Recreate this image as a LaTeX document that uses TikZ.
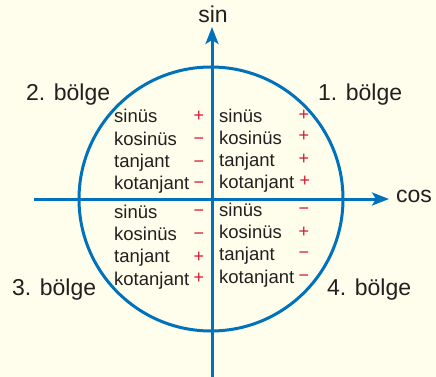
\documentclass[tikz,border=0pt]{standalone}
\usepackage{fontspec}
\setmainfont{Liberation Sans}
\usetikzlibrary{arrows.meta}
\definecolor{bg}{RGB}{255,253,235}
\definecolor{axisblue}{RGB}{0,114,188}
\definecolor{txt}{RGB}{35,31,32}
\definecolor{sgn}{RGB}{215,25,50}
\begin{document}
\begin{tikzpicture}[x=1pt,y=-1pt,
  lbl/.style={font=\fontsize{18.5}{20}\selectfont, text=txt, anchor=base west, inner sep=0pt},
  big/.style={font=\fontsize{23}{25}\selectfont, text=txt, anchor=base west, inner sep=0pt},
  sg/.style={font=\fontsize{18}{20}\selectfont, text=sgn, anchor=base, inner sep=0pt},
  ax/.style={draw=axisblue, line width=3pt},
  tip/.style={-{Stealth[length=17pt,width=13pt,inset=4pt]}}]
\fill[bg] (0,0) rectangle (436,377);
\useasboundingbox (0,0) rectangle (436,377);
\coordinate (O) at (211,199);
\draw[ax] (O) circle[radius=132];
\coordinate (xl) at (34,199);
\coordinate (xr) at (389,199);
\coordinate (yb) at (212,378);
\coordinate (yt) at (212,27);
\draw[ax, tip] (xl) -- (xr);
\draw[ax, tip] (yb) -- (yt);
\node[big, anchor=base] (sin) at (213,23) {sin};
\node[big] (cos) at (396,202.3) {cos};
\node[big] (q2) at (26,100.7) {2. bölge};
\node[big] (q1) at (318,100.7) {1. bölge};
\node[big] (q3) at (12,295.7) {3. bölge};
\node[big] (q4) at (327,295.7) {4. bölge};
% quadrant 2 (top left)
\node[lbl] (a1) at (114,123) {sinüs};
\node[lbl] (a2) at (114,145.5) {kosinüs};
\node[lbl] (a3) at (114,167.5) {tanjant};
\node[lbl] (a4) at (114,189.5) {kotanjant};
\node[sg] (as1) at (199,121.3) {+};
\node[sg] (as2) at (199,144) {−};
\node[sg] (as3) at (199,167) {−};
\node[sg] (as4) at (199,188) {−};
% quadrant 1 (top right)
\node[lbl] (b1) at (219,122) {sinüs};
\node[lbl] (b2) at (219,144) {kosinüs};
\node[lbl] (b3) at (219,166) {tanjant};
\node[lbl] (b4) at (219,188) {kotanjant};
\node[sg] (bs1) at (304,120.3) {+};
\node[sg] (bs2) at (304,141.3) {+};
\node[sg] (bs3) at (304,164.3) {+};
\node[sg] (bs4) at (305,186.3) {+};
% quadrant 3 (bottom left)
\node[lbl] (c1) at (114,218) {sinüs};
\node[lbl] (c2) at (114,240.5) {kosinüs};
\node[lbl] (c3) at (114,262.5) {tanjant};
\node[lbl] (c4) at (114,285) {kotanjant};
\node[sg] (cs1) at (199,216.3) {−};
\node[sg] (cs2) at (199,239) {−};
\node[sg] (cs3) at (199,262) {+};
\node[sg] (cs4) at (199,283) {+};
% quadrant 4 (bottom right)
\node[lbl] (d1) at (219,216) {sinüs};
\node[lbl] (d2) at (219,238.5) {kosinüs};
\node[lbl] (d3) at (219,260.5) {tanjant};
\node[lbl] (d4) at (219,283) {kotanjant};
\node[sg] (ds1) at (304,214) {−};
\node[sg] (ds2) at (304,237.3) {+};
\node[sg] (ds3) at (304,258.6) {−};
\node[sg] (ds4) at (304,281.3) {−};
\end{tikzpicture}
\end{document}
